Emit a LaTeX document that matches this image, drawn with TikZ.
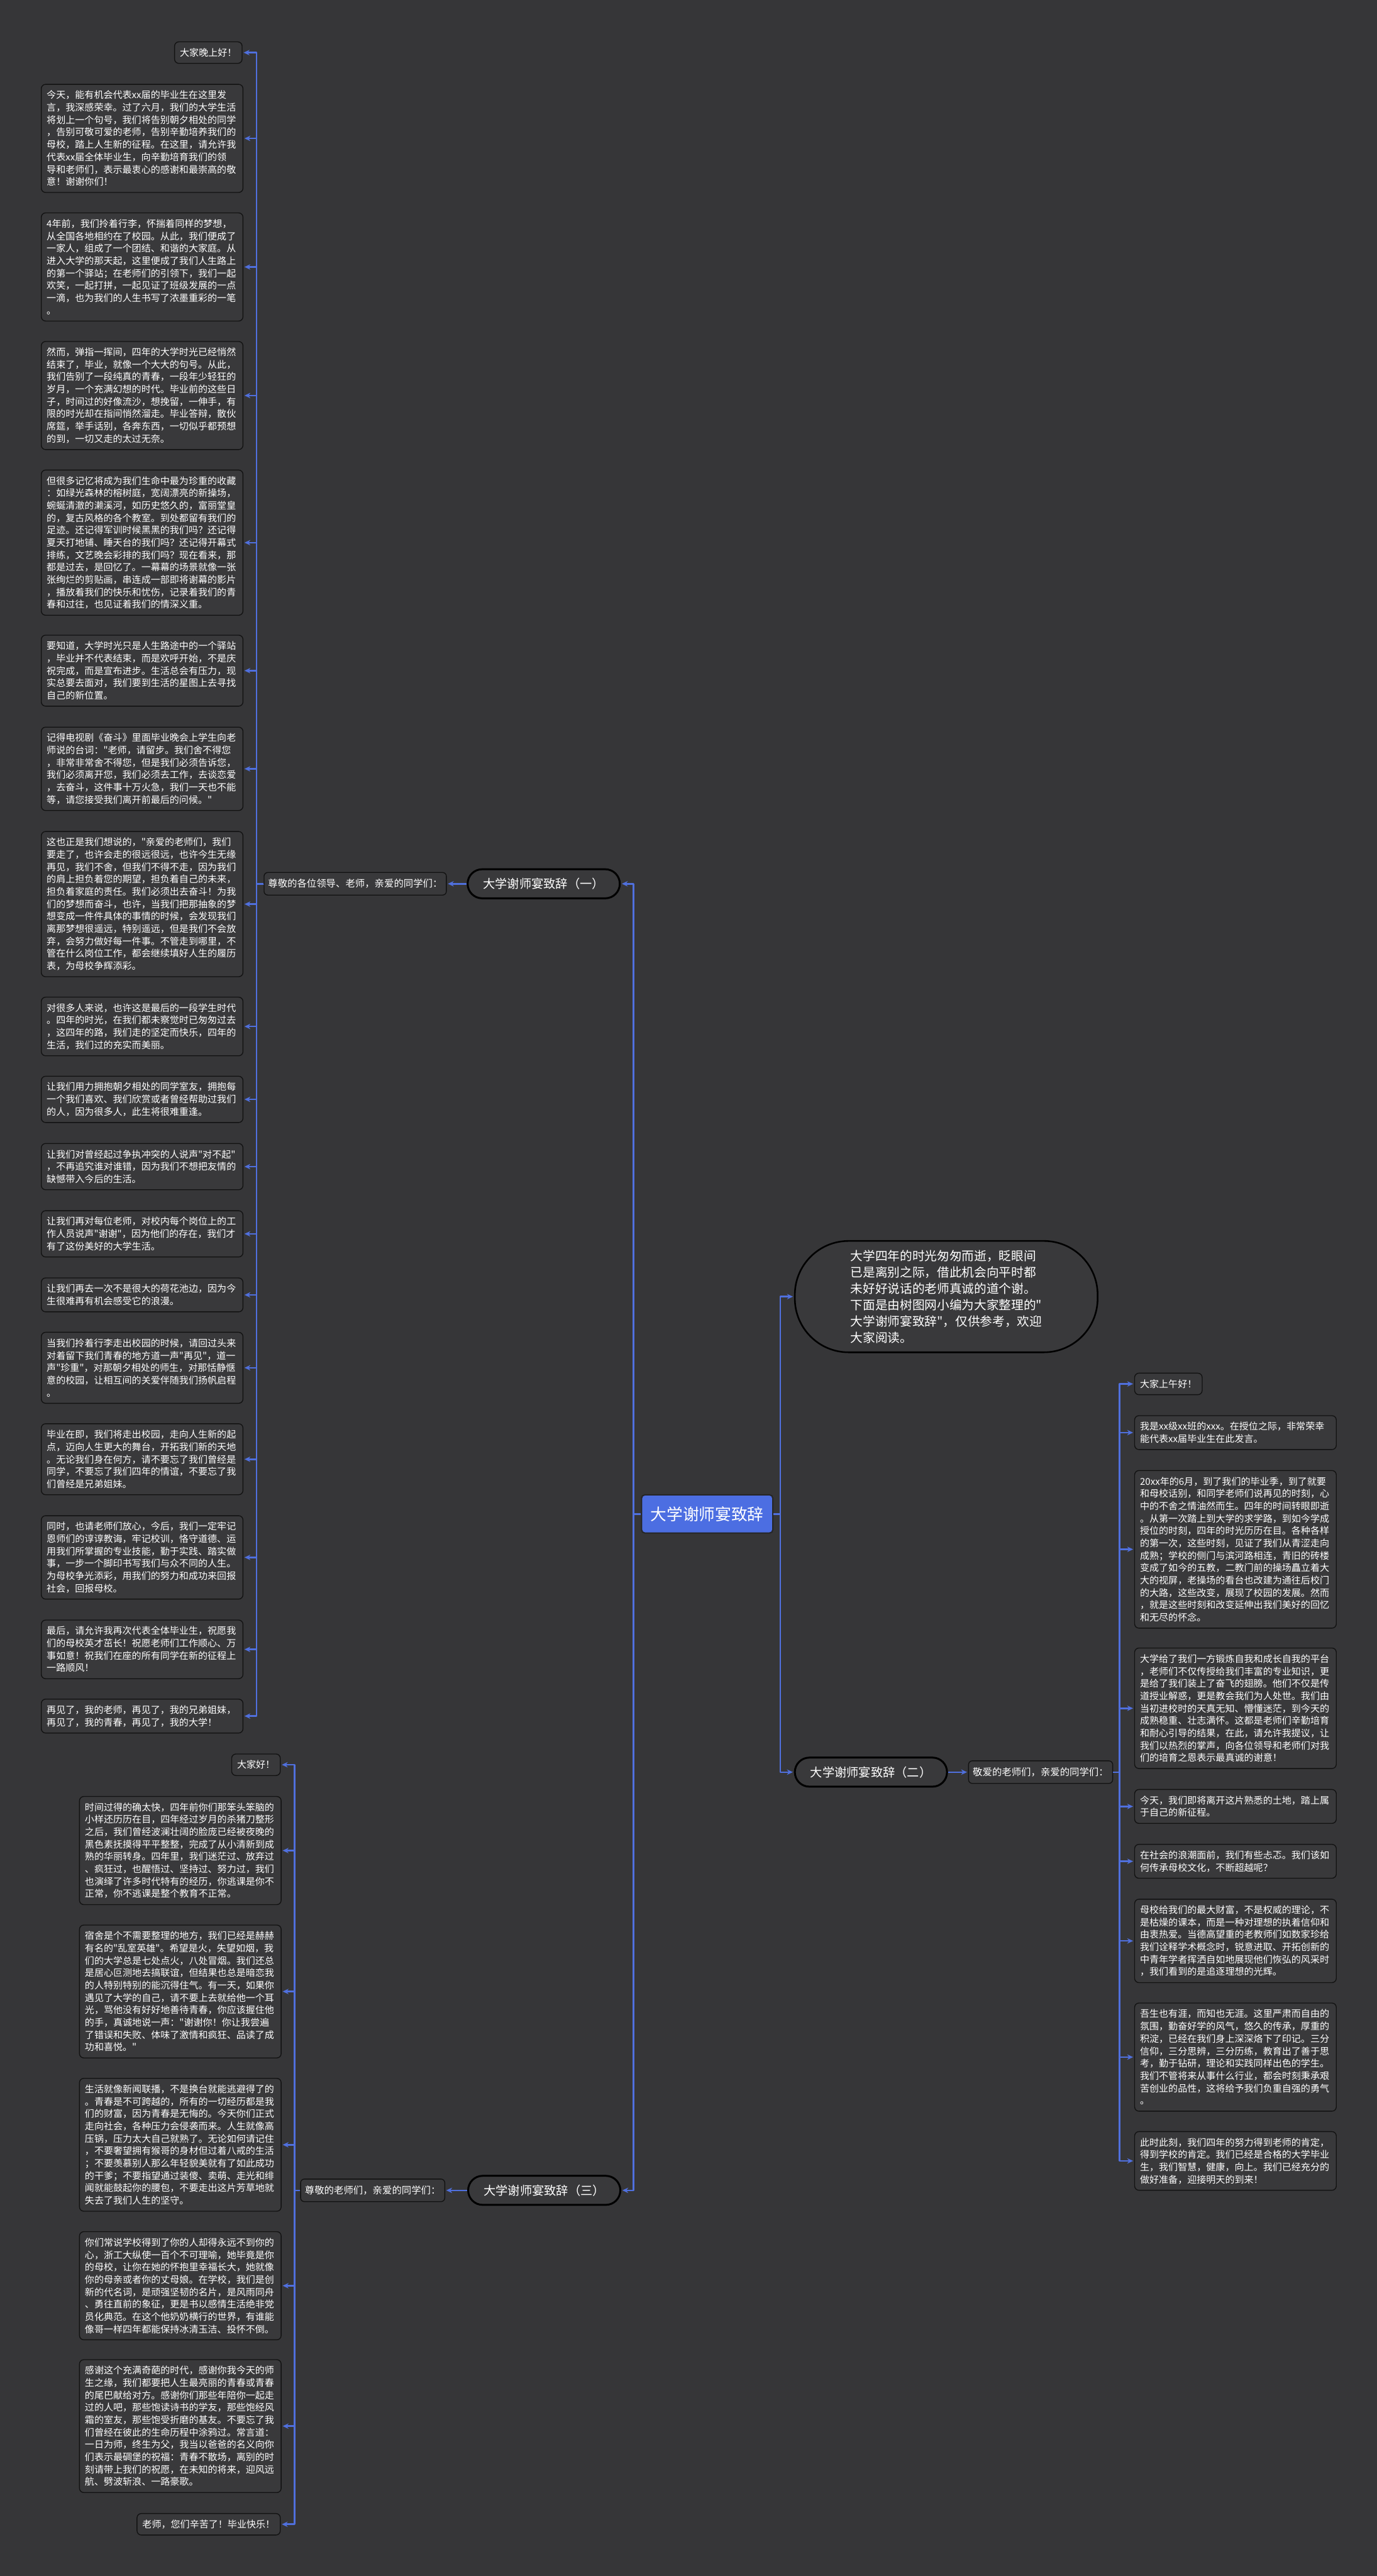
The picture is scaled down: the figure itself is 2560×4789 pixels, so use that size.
\documentclass[tikz,border=0pt]{standalone}
\usepackage{fontspec}
\newfontfamily\cjk{Noto Sans CJK SC}
\usetikzlibrary{arrows.meta}
\definecolor{bg}{RGB}{54,54,56}
\definecolor{boxfill}{RGB}{57,57,59}
\definecolor{edge}{RGB}{18,18,18}
\definecolor{conn}{RGB}{80,112,222}
\definecolor{mainblue}{RGB}{76,110,226}
\begin{document}
\begin{tikzpicture}[x=1pt,y=-1pt,
  every node/.style={text=white},
  leaf/.style={draw=edge, line width=1.6pt, fill=boxfill, rounded corners=8pt,
    text width=355pt, inner xsep=10pt, inner ysep=0pt, align=left,
    font={\cjk\fontsize{17.6}{23}\selectfont}, anchor=north west},
  small/.style={draw=edge, line width=1.6pt, fill=boxfill, rounded corners=8pt,
    inner xsep=10pt, inner ysep=0pt, minimum height=40pt,
    font={\cjk\fontsize{17.6}{23}\selectfont}},
  lbl/.style={draw=edge, line width=1.6pt, fill=boxfill, rounded corners=7pt,
    inner xsep=6pt, inner ysep=0pt, minimum height=42pt,
    font={\cjk\fontsize{18}{23}\selectfont}},
  hub/.style={draw=black, line width=3.5pt, fill=boxfill, rounded corners=27pt,
    minimum width=283pt, minimum height=54pt, inner sep=0pt,
    font={\cjk\fontsize{22.5}{27}\selectfont}},
  intro/.style={draw=black, line width=3pt, fill=boxfill, rounded corners=100pt,
    minimum width=563pt, minimum height=207pt, align=left,
    font={\cjk\fontsize{23}{30.4}\selectfont}},
  root/.style={draw=black!85, line width=2.5pt, fill=mainblue, rounded corners=6pt,
    minimum width=244pt, minimum height=71pt, inner sep=0pt,
    font={\cjk\fontsize{30}{34}\selectfont}},
  arr/.style={draw=conn, line width=3pt, line join=round,
    -{Stealth[length=11pt,width=10pt]}, shorten >=2pt}
]
\fill[bg] (0,0) rectangle (2560,4789);

% ---------- centre and intro ----------
\node[root] (root) at (1315,2814.5) {大学谢师宴致辞};
\node[intro] (intro) at (1759.5,2410.5) {大学四年的时光匆匆而逝，眨眼间\\已是离别之际，借此机会向平时都\\未好好说话的老师真诚的道个谢。\\下面是由树图网小编为大家整理的"\\大学谢师宴致辞"，仅供参考，欢迎\\大家阅读。};

\coordinate (tl) at (1178,2814.5);
\coordinate (tr) at (1451,2814.5);

% ---------- branch hubs ----------
\node[hub] (h1) at (1011,1643) {大学谢师宴致辞（一）};
\node[hub] (h2) at (1619.5,3294.5) {大学谢师宴致辞（二）};
\node[hub] (h3) at (1012,4072) {大学谢师宴致辞（三）};

\node[lbl, minimum width=339pt] (s1) at (660.5,1643) {尊敬的各位领导、老师，亲爱的同学们：};
\node[lbl, minimum width=268pt] (s2) at (1935,3294.5) {敬爱的老师们，亲爱的同学们：};
\node[lbl, minimum width=268pt] (s3) at (693,4072) {尊敬的老师们，亲爱的同学们：};

\draw[arr] (root.east) -- (tr) |- (intro.west);
\draw[arr] (root.east) -- (tr) |- (h2.west);
\draw[arr] (root.west) -- (tl) |- (h1.east);
\draw[arr] (root.west) -- (tl) |- (h3.east);
\draw[arr] (h1.west) -- (s1.east);
\draw[arr] (h2.east) -- (s2.west);
\draw[arr] (h3.west) -- (s3.east);

\coordinate (b1) at (477,1643);
\coordinate (b2) at (2082,3294.5);
\coordinate (b3) at (548,4072);

% ---------- branch 1 leaves ----------
\node[small, anchor=north east] (a1) at (451,77) {大家晚上好！};
\node[leaf, minimum height=201pt] (a2) at (76,156) {今天，能有机会代表xx届的毕业生在这里发\\言，我深感荣幸。过了六月，我们的大学生活\\将划上一个句号，我们将告别朝夕相处的同学\\，告别可敬可爱的老师，告别辛勤培养我们的\\母校，踏上人生新的征程。在这里，请允许我\\代表xx届全体毕业生，向辛勤培育我们的领\\导和老师们，表示最衷心的感谢和最崇高的敬\\意！谢谢你们！};
\node[leaf, minimum height=201pt] (a3) at (76,395) {4年前，我们拎着行李，怀揣着同样的梦想，\\从全国各地相约在了校园。从此，我们便成了\\一家人，组成了一个团结、和谐的大家庭。从\\进入大学的那天起，这里便成了我们人生路上\\的第一个驿站；在老师们的引领下，我们一起\\欢笑，一起打拼，一起见证了班级发展的一点\\一滴，也为我们的人生书写了浓墨重彩的一笔\\。};
\node[leaf, minimum height=201pt] (a4) at (76,634) {然而，弹指一挥间，四年的大学时光已经悄然\\结束了，毕业，就像一个大大的句号。从此，\\我们告别了一段纯真的青春，一段年少轻狂的\\岁月，一个充满幻想的时代。毕业前的这些日\\子，时间过的好像流沙，想挽留，一伸手，有\\限的时光却在指间悄然溜走。毕业答辩，散伙\\席筵，举手话别，各奔东西，一切似乎都预想\\的到，一切又走的太过无奈。};
\node[leaf, minimum height=270pt] (a5) at (76,873) {但很多记忆将成为我们生命中最为珍重的收藏\\：如绿光森林的榕树庭，宽阔漂亮的新操场，\\蜿蜒清澈的濑溪河，如历史悠久的，富丽堂皇\\的，复古风格的各个教室。到处都留有我们的\\足迹。还记得军训时候黑黑的我们吗？还记得\\夏天打地铺、睡天台的我们吗？还记得开幕式\\排练，文艺晚会彩排的我们吗？现在看来，那\\都是过去，是回忆了。一幕幕的场景就像一张\\张绚烂的剪贴画，串连成一部即将谢幕的影片\\，播放着我们的快乐和忧伤，记录着我们的青\\春和过往，也见证着我们的情深义重。};
\node[leaf, minimum height=132pt] (a6) at (76,1180) {要知道，大学时光只是人生路途中的一个驿站\\，毕业并不代表结束，而是欢呼开始，不是庆\\祝完成，而是宣布进步。生活总会有压力，现\\实总要去面对，我们要到生活的星图上去寻找\\自己的新位置。};
\node[leaf, minimum height=155pt] (a7) at (76,1351) {记得电视剧《奋斗》里面毕业晚会上学生向老\\师说的台词："老师，请留步。我们舍不得您\\，非常非常舍不得您，但是我们必须告诉您，\\我们必须离开您，我们必须去工作，去谈恋爱\\，去奋斗，这件事十万火急，我们一天也不能\\等，请您接受我们离开前最后的问候。"};
\node[leaf, minimum height=270pt] (a8) at (76,1545) {这也正是我们想说的，"亲爱的老师们，我们\\要走了，也许会走的很远很远，也许今生无缘\\再见，我们不舍，但我们不得不走，因为我们\\的肩上担负着您的期望，担负着自己的未来，\\担负着家庭的责任。我们必须出去奋斗！为我\\们的梦想而奋斗，也许，当我们把那抽象的梦\\想变成一件件具体的事情的时候，会发现我们\\离那梦想很遥远，特别遥远，但是我们不会放\\弃，会努力做好每一件事。不管走到哪里，不\\管在什么岗位工作，都会继续填好人生的履历\\表，为母校争辉添彩。};
\node[leaf, minimum height=109pt] (a9) at (76,1853) {对很多人来说，也许这是最后的一段学生时代\\。四年的时光，在我们都未察觉时已匆匆过去\\，这四年的路，我们走的坚定而快乐，四年的\\生活，我们过的充实而美丽。};
\node[leaf, minimum height=86pt] (a10) at (76,2000) {让我们用力拥抱朝夕相处的同学室友，拥抱每\\一个我们喜欢、我们欣赏或者曾经帮助过我们\\的人，因为很多人，此生将很难重逢。};
\node[leaf, minimum height=86pt] (a11) at (76,2125) {让我们对曾经起过争执冲突的人说声"对不起"\\，不再追究谁对谁错，因为我们不想把友情的\\缺憾带入今后的生活。};
\node[leaf, minimum height=86pt] (a12) at (76,2250) {让我们再对每位老师，对校内每个岗位上的工\\作人员说声"谢谢"，因为他们的存在，我们才\\有了这份美好的大学生活。};
\node[leaf, minimum height=63pt] (a13) at (76,2375) {让我们再去一次不是很大的荷花池边，因为今\\生很难再有机会感受它的浪漫。};
\node[leaf, minimum height=132pt] (a14) at (76,2476) {当我们拎着行李走出校园的时候，请回过头来\\对着留下我们青春的地方道一声"再见"，道一\\声"珍重"，对那朝夕相处的师生，对那恬静惬\\意的校园，让相互间的关爱伴随我们扬帆启程\\。};
\node[leaf, minimum height=132pt] (a15) at (76,2646) {毕业在即，我们将走出校园，走向人生新的起\\点，迈向人生更大的舞台，开拓我们新的天地\\。无论我们身在何方，请不要忘了我们曾经是\\同学，不要忘了我们四年的情谊，不要忘了我\\们曾经是兄弟姐妹。};
\node[leaf, minimum height=155pt] (a16) at (76,2817) {同时，也请老师们放心，今后，我们一定牢记\\恩师们的谆谆教诲，牢记校训，恪守道德、运\\用我们所掌握的专业技能，勤于实践、踏实做\\事，一步一个脚印书写我们与众不同的人生。\\为母校争光添彩，用我们的努力和成功来回报\\社会，回报母校。};
\node[leaf, minimum height=109pt] (a17) at (76,3011) {最后，请允许我再次代表全体毕业生，祝愿我\\们的母校英才茁长！祝愿老师们工作顺心、万\\事如意！祝我们在座的所有同学在新的征程上\\一路顺风！};
\node[leaf, minimum height=63pt] (a18) at (76,3158) {再见了，我的老师，再见了，我的兄弟姐妹，\\再见了，我的青春，再见了，我的大学！};

\foreach \n in {a1,a2,a3,a4,a5,a6,a7,a8,a9,a10,a11,a12,a13,a14,a15,a16,a17,a18}
  \draw[arr] (s1.west) -- (b1) |- (\n.east);

% ---------- branch 2 leaves ----------
\node[small, anchor=north west] (r1) at (2109,2552) {大家上午好！};
\node[leaf, minimum height=63pt] (r2) at (2109,2631) {我是xx级xx班的xxx。在授位之际，非常荣幸\\能代表xx届毕业生在此发言。};
\node[leaf, minimum height=293pt] (r3) at (2109,2733) {20xx年的6月，到了我们的毕业季，到了就要\\和母校话别，和同学老师们说再见的时刻，心\\中的不舍之情油然而生。四年的时间转眼即逝\\。从第一次踏上到大学的求学路，到如今学成\\授位的时刻，四年的时光历历在目。各种各样\\的第一次，这些时刻，见证了我们从青涩走向\\成熟；学校的侧门与滨河路相连，青旧的砖楼\\变成了如今的五教，二教门前的操场矗立着大\\大的视屏，老操场的看台也改建为通往后校门\\的大路，这些改变，展现了校园的发展。然而\\，就是这些时刻和改变延伸出我们美好的回忆\\和无尽的怀念。};
\node[leaf, minimum height=224pt] (r4) at (2109,3063) {大学给了我们一方锻炼自我和成长自我的平台\\，老师们不仅传授给我们丰富的专业知识，更\\是给了我们装上了奋飞的翅膀。他们不仅是传\\道授业解惑，更是教会我们为人处世。我们由\\当初进校时的天真无知、懵懂迷茫，到今天的\\成熟稳重、壮志满怀。这都是老师们辛勤培育\\和耐心引导的结果，在此，请允许我提议，让\\我们以热烈的掌声，向各位领导和老师们对我\\们的培育之恩表示最真诚的谢意！};
\node[leaf, minimum height=63pt] (r5) at (2109,3326) {今天，我们即将离开这片熟悉的土地，踏上属\\于自己的新征程。};
\node[leaf, minimum height=63pt] (r6) at (2109,3428) {在社会的浪潮面前，我们有些忐忑。我们该如\\何传承母校文化，不断超越呢？};
\node[leaf, minimum height=155pt] (r7) at (2109,3530) {母校给我们的最大财富，不是权威的理论，不\\是枯燥的课本，而是一种对理想的执着信仰和\\由衷热爱。当德高望重的老教师们如数家珍给\\我们诠释学术概念时，锐意进取、开拓创新的\\中青年学者挥洒自如地展现他们恢弘的风采时\\，我们看到的是追逐理想的光辉。};
\node[leaf, minimum height=201pt] (r8) at (2109,3723) {吾生也有涯，而知也无涯。这里严肃而自由的\\氛围，勤奋好学的风气，悠久的传承，厚重的\\积淀，已经在我们身上深深烙下了印记。三分\\信仰，三分思辨，三分历练，教育出了善于思\\考，勤于钻研，理论和实践同样出色的学生。\\我们不管将来从事什么行业，都会时刻秉承艰\\苦创业的品性，这将给予我们负重自强的勇气\\。};
\node[leaf, minimum height=109pt] (r9) at (2109,3962) {此时此刻，我们四年的努力得到老师的肯定，\\得到学校的肯定。我们已经是合格的大学毕业\\生，我们智慧，健康，向上。我们已经充分的\\做好准备，迎接明天的到来！};

\foreach \n in {r1,r2,r3,r4,r5,r6,r7,r8,r9}
  \draw[arr] (s2.east) -- (b2) |- (\n.west);

% ---------- branch 3 leaves ----------
\node[small, anchor=north east] (m1) at (522,3260) {大家好！};
\node[leaf, minimum height=201pt] (m2) at (147,3339) {时间过得的确太快，四年前你们那笨头笨脑的\\小样还历历在目，四年经过岁月的杀猪刀整形\\之后，我们曾经波澜壮阔的脸庞已经被夜晚的\\黑色素抚摸得平平整整，完成了从小清新到成\\熟的华丽转身。四年里，我们迷茫过、放弃过\\、疯狂过，也醒悟过、坚持过、努力过，我们\\也演绎了许多时代特有的经历，你逃课是你不\\正常，你不逃课是整个教育不正常。};
\node[leaf, minimum height=247pt] (m3) at (147,3578) {宿舍是个不需要整理的地方，我们已经是赫赫\\有名的"乱室英雄"。希望是火，失望如烟，我\\们的大学总是七处点火，八处冒烟。我们还总\\是居心叵测地去搞联谊，但结果也总是暗恋我\\的人特别特别的能沉得住气。有一天，如果你\\遇见了大学的自己，请不要上去就给他一个耳\\光，骂他没有好好地善待青春，你应该握住他\\的手，真诚地说一声："谢谢你！你让我尝遍\\了错误和失败、体味了激情和疯狂、品读了成\\功和喜悦。"};
\node[leaf, minimum height=247pt] (m4) at (147,3863) {生活就像新闻联播，不是换台就能逃避得了的\\。青春是不可跨越的，所有的一切经历都是我\\们的财富，因为青春是无悔的。今天你们正式\\走向社会，各种压力会侵袭而来。人生就像高\\压锅，压力太大自己就熟了。无论如何请记住\\，不要奢望拥有猴哥的身材但过着八戒的生活\\；不要羡慕别人那么年轻貌美就有了如此成功\\的干爹；不要指望通过装傻、卖萌、走光和绯\\闻就能鼓起你的腰包，不要走出这片芳草地就\\失去了我们人生的坚守。};
\node[leaf, minimum height=201pt] (m5) at (147,4148) {你们常说学校得到了你的人却得永远不到你的\\心，浙工大纵使一百个不可理喻，她毕竟是你\\的母校，让你在她的怀抱里幸福长大，她就像\\你的母亲或者你的丈母娘。在学校，我们是创\\新的代名词，是顽强坚韧的名片，是风雨同舟\\、勇往直前的象征，更是书以感情生活绝非党\\员化典范。在这个他奶奶横行的世界，有谁能\\像哥一样四年都能保持冰清玉洁、投怀不倒。};
\node[leaf, minimum height=247pt] (m6) at (147,4386) {感谢这个充满奇葩的时代，感谢你我今天的师\\生之缘，我们都要把人生最亮丽的青春或青春\\的尾巴献给对方。感谢你们那些年陪你一起走\\过的人吧，那些饱读诗书的学友，那些饱经风\\霜的室友，那些饱受折磨的基友。不要忘了我\\们曾经在彼此的生命历程中涂鸦过。常言道：\\一日为师，终生为父，我当以爸爸的名义向你\\们表示最碉堡的祝福：青春不散场，离别的时\\刻请带上我们的祝愿，在未知的将来，迎风远\\航、劈波斩浪、一路豪歌。};
\node[small, anchor=north east] (m7) at (522,4672) {老师，您们辛苦了！毕业快乐！};

\foreach \n in {m1,m2,m3,m4,m5,m6,m7}
  \draw[arr] (s3.west) -- (b3) |- (\n.east);

\end{tikzpicture}
\end{document}
